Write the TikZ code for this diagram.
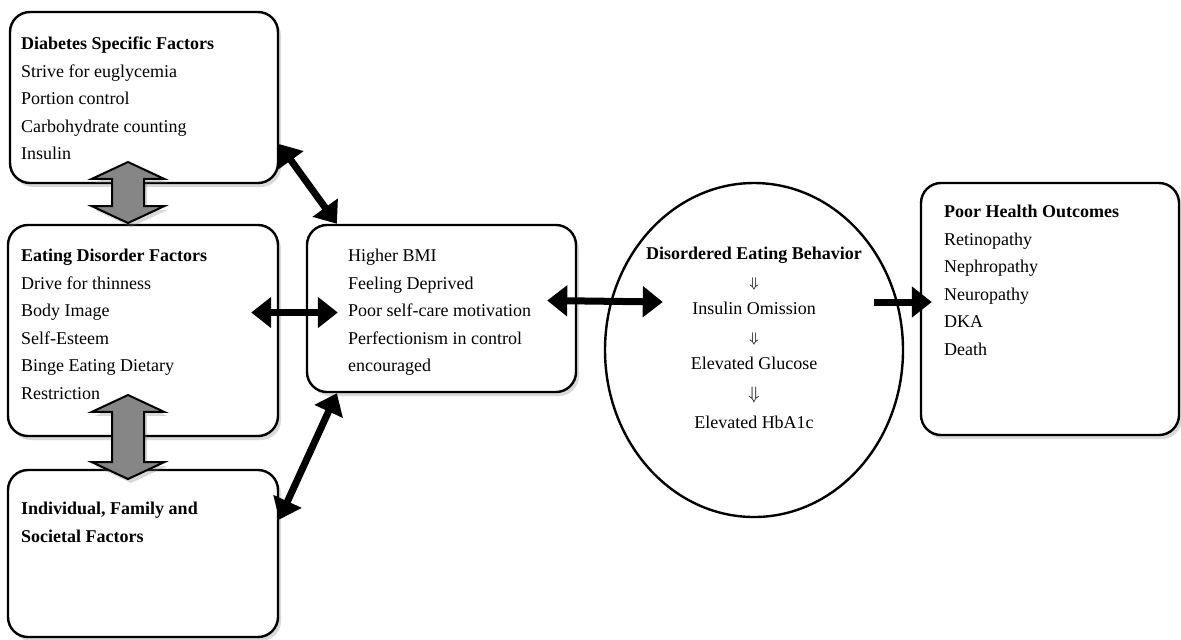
\documentclass[tikz,border=0pt]{standalone}
\usepackage{fontspec}
\setmainfont{Liberation Serif}
\usepackage{amsmath}
\usetikzlibrary{positioning,arrows.meta,shapes.arrows,shapes.geometric,shadows}

\begin{document}
\begin{tikzpicture}[x=0.5pt,y=-0.5pt,font=\fontsize{9}{13.75}\selectfont]
  \tikzstyle{factor}=[draw,line width=1.2pt,rounded corners=10pt,fill=white,
    drop shadow={shadow xshift=1.5pt,shadow yshift=-2pt,opacity=0.3}]
  \tikzstyle{list}=[anchor=north west,align=left,inner sep=0pt]
  \tikzstyle{link}=[line width=3.5pt,{Triangle[length=10pt,width=15pt]}-{Triangle[length=10pt,width=15pt]}]
  \tikzstyle{block}=[double arrow,rotate=90,draw,line width=1pt,fill=gray!95,
    minimum width=35pt,double arrow head extend=10pt,double arrow tip angle=130,
    inner xsep=0pt,inner ysep=7.5pt,
    drop shadow={shadow xshift=1.5pt,shadow yshift=-2pt,opacity=0.3}]
  \useasboundingbox (0,0) rectangle (1181,639);

  \node[factor,minimum width=134pt,minimum height=85.5pt]  (dsf) at (144,97.5)   {};
  \node[factor,minimum width=135pt,minimum height=105.5pt] (edf) at (143,330.5)  {};
  \node[factor,minimum width=135pt,minimum height=83.5pt]  (ifs) at (143,553.5)  {};
  \node[factor,minimum width=134.5pt,minimum height=83.5pt](mid) at (441.5,308.5) {};
  \node[draw,ellipse,line width=1.2pt,minimum width=149pt,minimum height=167pt] (deb) at (754,350) {};
  \node[factor,minimum width=129pt,minimum height=126pt]   (pho) at (1050,309)   {};

  \node[list] (dsf-t) at ([xshift=6pt,yshift=-13pt]dsf.north west)
    {\textbf{Diabetes Specific Factors}\\Strive for euglycemia\\Portion control\\Carbohydrate counting\\Insulin};
  \node[list] (edf-t) at ([xshift=7pt,yshift=-12.5pt]edf.north west)
    {\textbf{Eating Disorder Factors}\\Drive for thinness\\Body Image\\Self-Esteem\\Binge Eating Dietary\\Restriction};
  \node[list] (ifs-t) at ([xshift=7pt,yshift=-16.5pt]ifs.north west)
    {\textbf{Individual, Family and}\\\textbf{Societal Factors}};
  \node[list] (mid-t) at ([xshift=21pt,yshift=-12.5pt]mid.north west)
    {Higher BMI\\Feeling Deprived\\Poor self-care motivation\\Perfectionism in control\\encouraged};
  \node[anchor=north,align=center,inner sep=0pt] (deb-t) at ([yshift=-32.5pt]deb.north)
    {\textbf{Disordered Eating Behavior}\\{\scriptsize$\Downarrow$}\\Insulin Omission\\{\scriptsize$\Downarrow$}\\Elevated Glucose\\[1pt]{\small$\Downarrow$}\\[1pt]Elevated HbA1c};
  \node[list] (pho-t) at ([xshift=12pt,yshift=-11.5pt]pho.north west)
    {\textbf{Poor Health Outcomes}\\Retinopathy\\Nephropathy\\Neuropathy\\DKA\\Death};

  \node[block,minimum height=30.5pt] (up)  at (128,192.5) {};
  \node[block,minimum height=42pt]   (low) at (128,437)   {};

  \path[link]
  (dsf.-19) edge (mid.141)
  ([xshift=-14pt,yshift=9pt]edf.east) edge ([xshift=16pt,yshift=-2pt]mid.west)
  (ifs.14)  edge (mid.219)
  ([xshift=-15pt,yshift=4pt]mid.east) edge ([xshift=29.5pt,yshift=24pt]deb.west);
  \draw[line width=3.5pt,-{Triangle[length=10pt,width=15pt]}]
    ([xshift=-15pt,yshift=24pt]deb.east) -- ([xshift=6pt,yshift=3.5pt]pho.west);
\end{tikzpicture}
\end{document}
